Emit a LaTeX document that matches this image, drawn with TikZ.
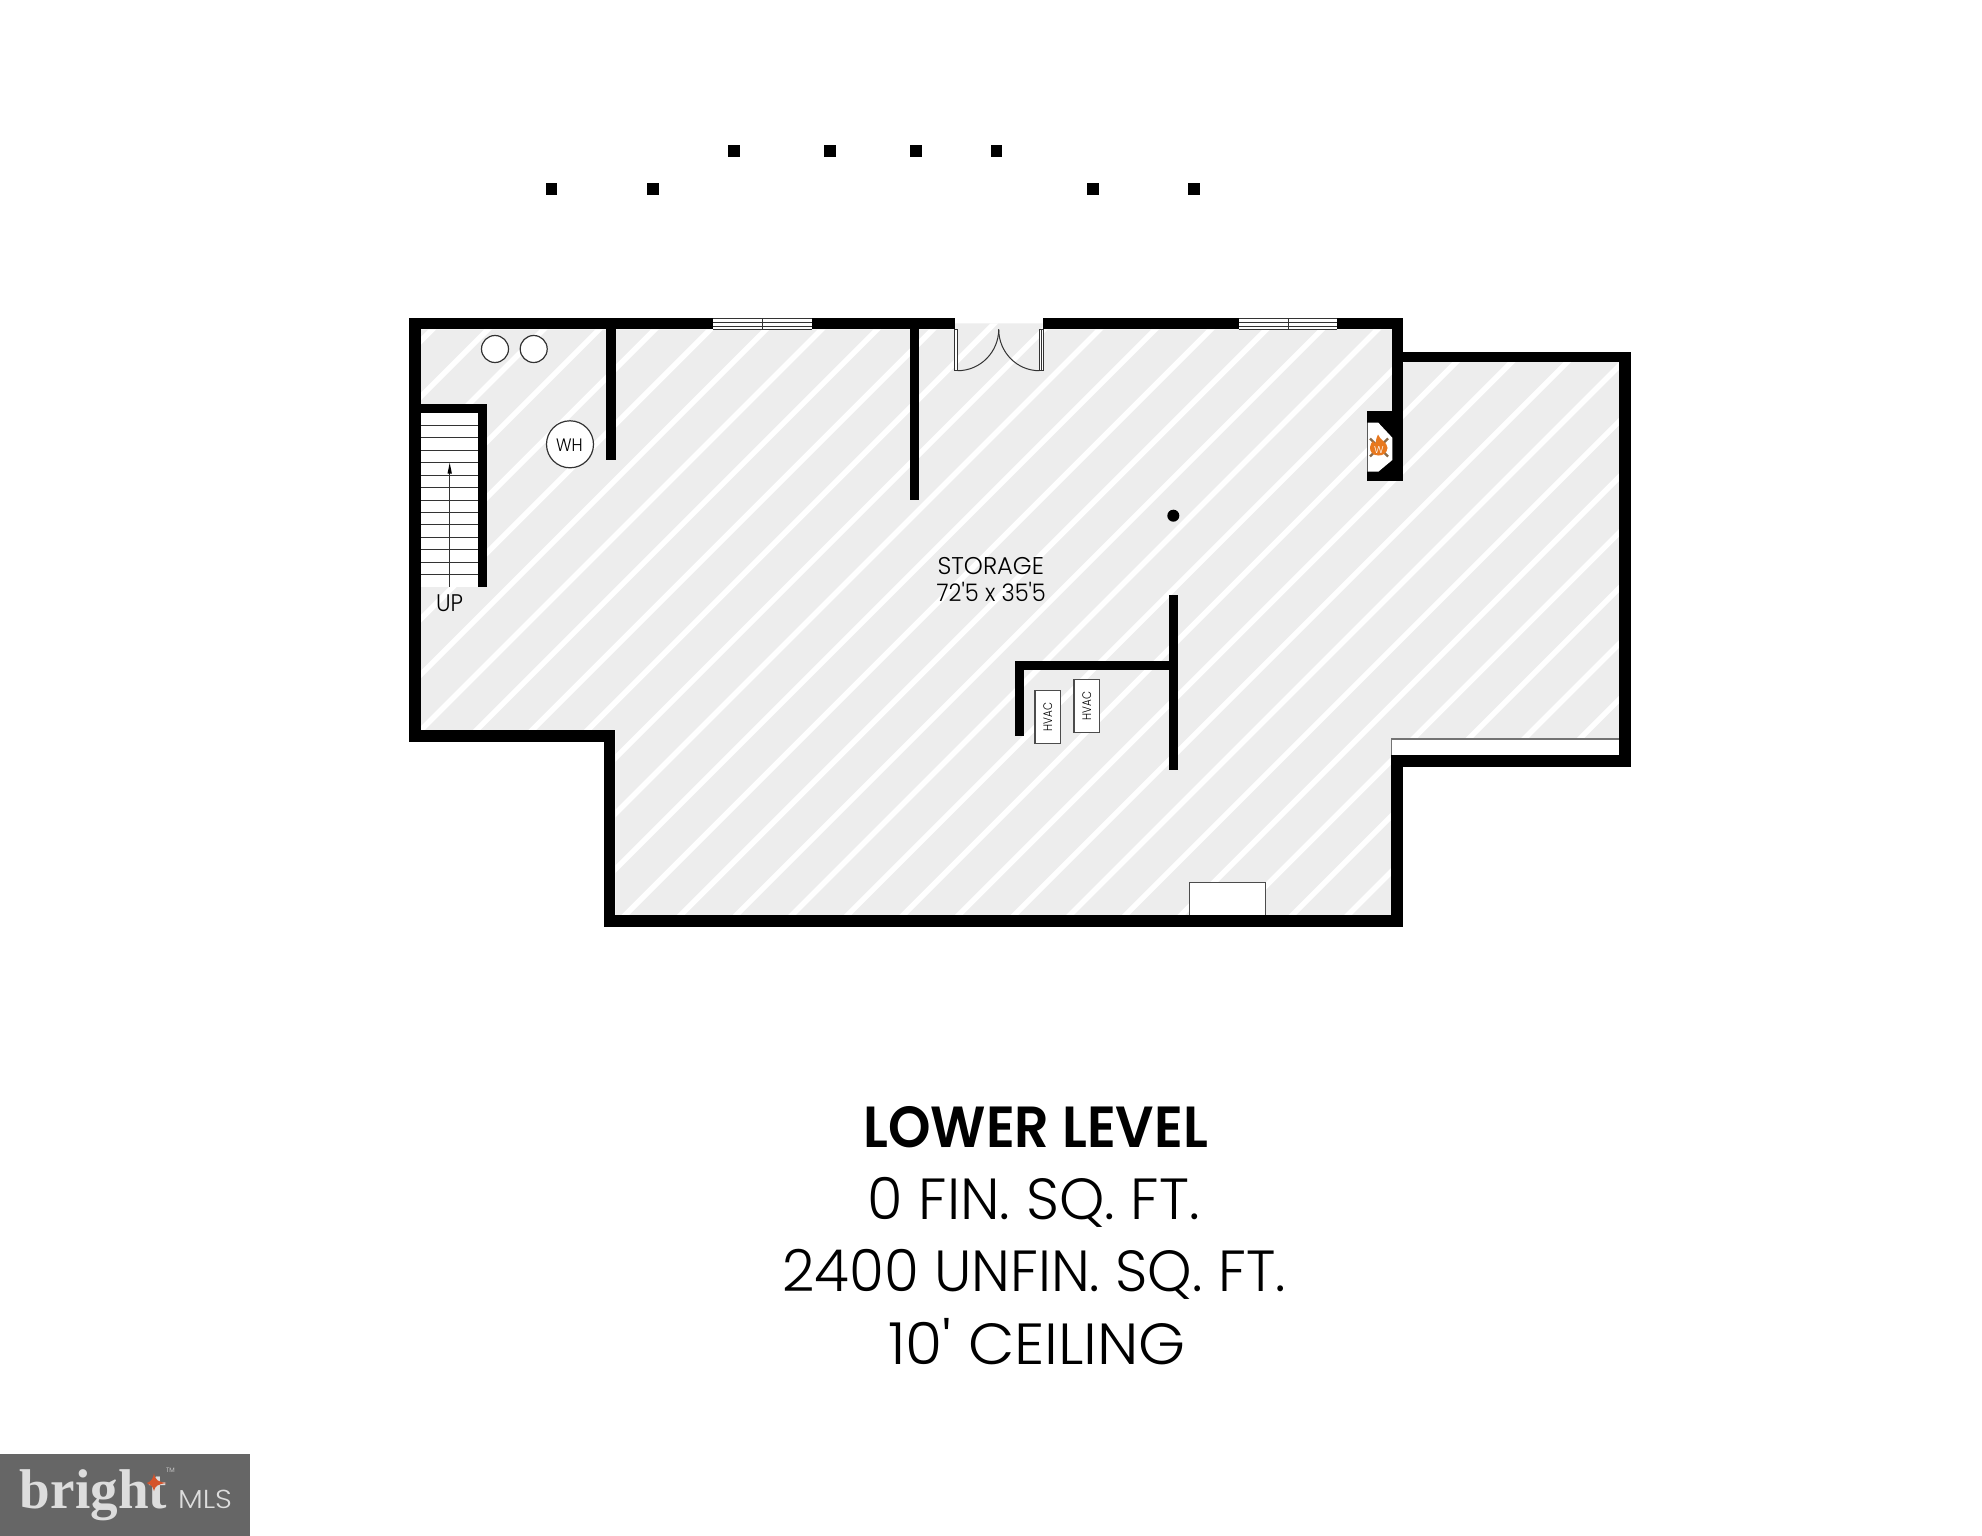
\documentclass[tikz,border=0pt]{standalone}
\usepackage{graphicx}
\usepackage{fontspec}
\setmainfont{Poppins}
\newfontfamily\lightf{Poppins Light}
\newfontfamily\boldf{Poppins SemiBold}
\newfontfamily\serf{Liberation Serif}
\newcommand{\fitw}[2]{\resizebox{#1}{\height}{#2}}
\definecolor{floorgray}{HTML}{EDEDED}
\definecolor{logogray}{HTML}{666666}
\definecolor{logotext}{HTML}{DDDDDD}
\definecolor{flame}{HTML}{E8781E}
\definecolor{logs}{HTML}{8A6A48}
\definecolor{star}{HTML}{D4532B}
\tikzset{
  wall/.style={fill=black,draw=none},
  thin line/.style={draw=black!80,line width=0.5pt},
  whitebox/.style={fill=white,draw=black!70,line width=0.6pt},
  label/.style={inner sep=0pt,outer sep=0pt,anchor=base,text=black},
  post/.style={fill=black,draw=none},
  stripe/.style={draw=white,line width=2.7pt},
}
\begin{document}
\begin{tikzpicture}[x=0.5pt,y=-0.5pt]
\useasboundingbox (0,0) rectangle (1982,1536);
\fill[white] (0,0) rectangle (1982,1536);
% posts
\foreach \cx in {734,830,915.7,996.5}{\fill[post] (\cx-5.8,145.5) rectangle (\cx+5.8,157.5);}
\foreach \cx in {551.4,652.8,1093,1193.8}{\fill[post] (\cx-5.8,182.7) rectangle (\cx+5.8,194.7);}
% floor
\begin{scope}
\path[clip] (421,329.3) -- (954.7,329.3) -- (954.7,323.3) -- (1042.7,323.3) -- (1042.7,329.3) -- (1392,329.3) -- (1392,362) -- (1619,362) -- (1619,739) -- (1391.3,739) -- (1391.3,915.3) -- (615.3,915.3) -- (615.3,730) -- (421,730) -- cycle;
\fill[floorgray] (400,300) rectangle (1640,940);
\foreach \n in {-13,...,22}{
  \pgfmathsetmacro{\cc}{1429+55.6*\n}
  \draw[stripe] (\cc-300,300) -- (\cc-950,950);
}
\end{scope}
% white strip right room
\fill[white] (1391.3,739) rectangle (1619,755);
\draw[draw=black!55,line width=0.7pt] (1391.3,755) -- (1391.3,739) -- (1619,739);
% outer walls
\fill[wall] (409.3,318) rectangle (954.7,329.3);
\fill[wall] (1042.7,318) rectangle (1402.7,329.3);
\fill[wall] (409.3,318) rectangle (421,742);
\fill[wall] (409.3,730) rectangle (615.3,742);
\fill[wall] (603.7,730) rectangle (615.3,926.7);
\fill[wall] (603.7,915.3) rectangle (1403,926.7);
\fill[wall] (1391.3,755) rectangle (1403,926.7);
\fill[wall] (1391.3,755) rectangle (1630.7,767);
\fill[wall] (1619,352) rectangle (1630.7,767);
\fill[wall] (1392.3,352) rectangle (1630.7,362.3);
\fill[wall] (1392,318) rectangle (1402.7,481.3);
% windows
\foreach \xa/\xb/\xm in {713.3/812/762.7,1238.7/1337.3/1288.3}{
  \fill[white] (\xa,318) rectangle (\xb,329.3);
  \foreach \yy in {318,322,326,329.3}{\draw[thin line] (\xa,\yy) -- (\xb,\yy);}
  \draw[thin line] (\xm,318) -- (\xm,329.3);
}
% inner partitions
\fill[wall] (606.3,329) rectangle (615.7,460);
\fill[wall] (909.7,329) rectangle (919,500);
\fill[wall] (1169.3,595.3) rectangle (1178.3,769.7);
\fill[wall] (1014.7,661.3) rectangle (1178.3,670.3);
\fill[wall] (1014.7,661.3) rectangle (1023.7,736);
\fill[black] (1173.3,515.7) circle (6);
% door
\draw[thin line,fill=white] (954.7,329.3) rectangle (957.7,370.7);
\draw[thin line,fill=white] (1039.3,329.3) rectangle (1043.3,370.7);
\draw[thin line] (1041.3,329.3) -- (1041.3,370.7);
\draw[thin line] (957.7,370.7) .. controls (980.3,370.7) and (998.7,352) .. (998.7,329.3);
\draw[thin line] (1039.3,370.7) .. controls (1016.7,370.7) and (998.7,352) .. (998.7,329.3);
% stairs
\fill[white] (421,413) rectangle (478.3,586.7);
\foreach \i in {1,...,13}{\draw[thin line] (421,413+12.44*\i) -- (478.3,413+12.44*\i);}
\fill[wall] (421,404) rectangle (487.3,413);
\fill[wall] (478.3,404) rectangle (487.3,586.7);
\draw[thin line] (449.7,586.7) -- (449.7,470);
\fill[black] (449.7,463) -- (451.9,473.5) -- (447.5,473.5) -- cycle;
% fixtures
\draw[whitebox,draw=black!80] (495,349) circle (13.5);
\draw[whitebox,draw=black!80] (533.7,349) circle (13.5);
\draw[whitebox,draw=black!80] (570,444.3) circle (23.5);
\draw[whitebox] (1035,690.3) rectangle (1060.7,743.3);
\draw[whitebox] (1074,679.7) rectangle (1099.7,732.7);
\draw[whitebox] (1189.3,915.3) -- (1189.3,882.3) -- (1265.7,882.3) -- (1265.7,915.3);
% fireplace
\fill[wall] (1366.7,411.3) rectangle (1402,481.3);
\fill[white] (1367.5,422.7) -- (1378.3,422.7) -- (1392.3,437.7) -- (1392.3,460) -- (1378.3,471.7) -- (1367.5,471.7) -- cycle;
\draw[logs,line width=1.2pt] (1370,438.5) -- (1388,456.5);
\draw[logs,line width=1.2pt] (1388,438.5) -- (1370,456.5);
\fill[flame] (1378,434.5) .. controls (1379,439) and (1388,443) .. (1387.5,448) .. controls (1387,453) and (1383,455.5) .. (1378.5,455.5) .. controls (1373,455.5) and (1369.5,452) .. (1370,447) .. controls (1370.5,444) and (1372,442) .. (1373,441) .. controls (1374,443) and (1375,443) .. (1375.5,443) .. controls (1376,440) and (1376.5,437) .. (1378,434.5) -- cycle;
\node[inner sep=0pt,text=white,font=\lightf\fontsize{5}{5}\selectfont] (fw) at (1379,450) {W};
% labels
\node[label,font=\lightf\fontsize{12.1}{14}\selectfont] (storage) at (990.8,574.3) {\fitw{53.2pt}{STORAGE}};
\node[label,font=\lightf\fontsize{12.1}{14}\selectfont] (size) at (991.3,601.7) {\fitw{54.6pt}{72'5 x 35'5}};
\node[label,font=\lightf\fontsize{12}{14}\selectfont] (up) at (449.5,611.7) {\fitw{13.5pt}{UP}};
\node[label,font=\lightf\fontsize{9}{10}\selectfont] (wh) at (569.3,451) {\fitw{13.3pt}{WH}};
\node[inner sep=0pt,rotate=90,font=\lightf\fontsize{6.2}{7}\selectfont] (hvaca) at (1047.8,716.8) {\fitw{14.3pt}{HVAC}};
\node[inner sep=0pt,rotate=90,font=\lightf\fontsize{6.2}{7}\selectfont] (hvacb) at (1086.8,706.2) {\fitw{14.3pt}{HVAC}};
% title
\node[label,font=\boldf\fontsize{29}{32}\selectfont] (t1) at (1035.7,1147.3) {\fitw{172.3pt}{LOWER LEVEL}};
\node[label,font=\lightf\fontsize{29}{32}\selectfont] (t2) at (1033.6,1219.5) {\fitw{166pt}{0 FIN. SQ. FT.}};
\node[label,font=\lightf\fontsize{29}{32}\selectfont] (t3) at (1034,1291.7) {\fitw{251.7pt}{2400 UNFIN. SQ. FT.}};
\node[label,font=\lightf\fontsize{29}{32}\selectfont] (t4) at (1037,1364) {\fitw{149pt}{10' CEILING}};
% logo
\fill[logogray] (0,1454) rectangle (250,1536);
\node[label,text=logotext,font=\serf\bfseries\fontsize{28}{30}\selectfont] (bright) at (93.5,1508) {\fitw{73.5pt}{bright}};
\fill[star] (154,1473) .. controls (155,1480) and (158,1482) .. (166.7,1483) .. controls (158,1484) and (155,1486) .. (154,1491) .. controls (153,1486) and (150,1484) .. (146.7,1483) .. controls (150,1482) and (153,1480) .. (154,1473) -- cycle;
\node[label,text=logotext,font=\lightf\fontsize{13}{14}\selectfont] (mls) at (205,1508) {\fitw{27pt}{MLS}};
\node[label,text=logotext,font=\lightf\fontsize{3.2}{4}\selectfont] (tm) at (170.5,1472.5) {TM};
\end{tikzpicture}
\end{document}
